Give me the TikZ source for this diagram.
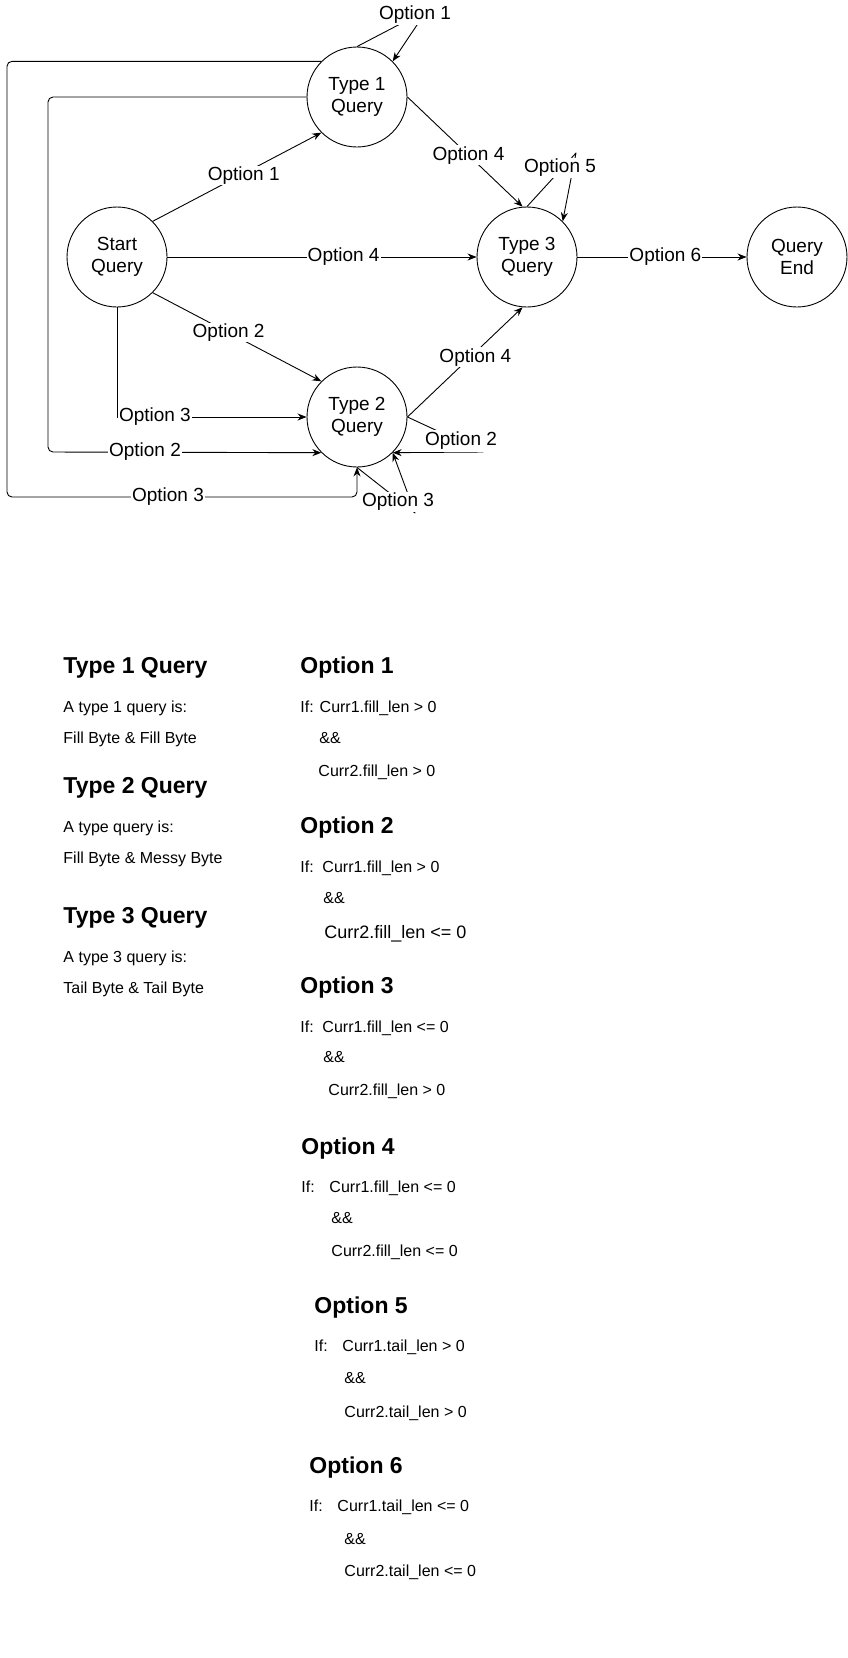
\documentclass[tikz,border=0pt]{standalone}
\usepackage{fontspec}
\setmainfont{Liberation Sans}
\usetikzlibrary{arrows.meta}

\begin{document}
\begin{tikzpicture}[x=1pt, y=-1pt, line width=0.9pt, line join=round,
    query/.style={draw, circle, minimum size=100pt, inner sep=0pt, align=center, font=\fontsize{19}{22}\selectfont},
    opt/.style={fill=white, inner sep=1pt, font=\fontsize{19}{22}\selectfont},
    arrow/.style={-{Stealth[length=9pt, width=7pt]}},
    head/.style={anchor=base west, inner sep=0pt, font=\fontsize{23}{27}\selectfont\bfseries},
    txt/.style={anchor=base west, inner sep=0pt, font=\fontsize{16}{19}\selectfont}
]
    \useasboundingbox (0,0) rectangle (848,1658);

    % Query states
    \node[query] (start) at (117,257) {Start\\Query};
    \node[query] (t1) at (357,97) {Type 1\\Query};
    \node[query] (t2) at (357,417) {Type 2\\Query};
    \node[query] (t3) at (527,257) {Type 3\\Query};
    \node[query] (qend) at (797,257) {Query\\End};

    % Loop corners
    \coordinate (v1) at (427,10);
    \coordinate (v5) at (576,153);
    \coordinate (v2) at (483,452);
    \coordinate (v3) at (415,513);

    % Transitions
    \draw[arrow] (start.45) -- node[opt, pos=0.54, yshift=-2pt] {Option 1} (t1.225);
    \draw[arrow] (start.-45) -- node[opt, pos=0.45] {Option 2} (t2.135);
    \draw[arrow] (start.south) |- node[opt, pos=0.6] {Option 3} (t2.west);
    \draw[arrow] (start.east) -- node[opt, pos=0.57] {Option 4} (t3.west);
    \draw[arrow] (t1.east) -- node[opt, pos=0.53] {Option 4} (t3.95);
    \draw[arrow] (t2.east) -- node[opt, pos=0.59, yshift=-5pt] {Option 4} (t3.265);
    \draw[arrow] (t3.east) -- node[opt, pos=0.52] {Option 6} (qend.west);

    % Back to type 2
    \draw[arrow, rounded corners=5pt] (t1.135) -| (7,497) -| (t2.south);
    \node[opt] (o3back) at (168,497) {Option 3};
    \draw[arrow, rounded corners=5pt] (t1.west) -| (48,452) -- (t2.-135);
    \node[opt] (o2back) at (145,452) {Option 2};

    % Self loops
    \draw[arrow] (t1.north) -- (v1) -- (t1.45);
    \node[opt] (o1self) at (415,15) {Option 1};
    \draw[arrow] (t3.north) -- (v5) -- (t3.45);
    \node[opt] (o5self) at (560,168) {Option 5};
    \draw[arrow] (t2.east) -- (v2) -- (t2.-45);
    \node[opt, inner sep=2.5pt] (o2self) at (461,441) {Option 2};
    \draw[arrow] (t2.south) -- (v3) -- (t2.-45);
    \node[opt] (o3self) at (398,502) {Option 3};

    % Query types
    \node[head] (h1) at (63,673) {Type 1 Query};
    \node[txt] (h1a) at (63,712) {A type 1 query is:};
    \node[txt] (h1b) at (63,743) {Fill Byte \& Fill Byte};
    \node[head] (h2) at (63,793) {Type 2 Query};
    \node[txt] (h2a) at (63,832) {A type query is:};
    \node[txt] (h2b) at (63,863) {Fill Byte \& Messy Byte};
    \node[head] (h3) at (63,923) {Type 3 Query};
    \node[txt] (h3a) at (63,962) {A type 3 query is:};
    \node[txt] (h3b) at (63,993) {Tail Byte \& Tail Byte};

    % Option conditions
    \node[head] (c1) at (300,673) {Option 1};
    \node[txt] (c1a) at (300,712) {If: Curr1.fill\_len > 0};
    \node[txt] (c1b) at (319,743) {\&\&};
    \node[txt] (c1c) at (318,776) {Curr2.fill\_len > 0};

    \node[head] (c2) at (300,833) {Option 2};
    \node[txt] (c2a) at (300,872) {If:\hspace{8.7pt}Curr1.fill\_len > 0};
    \node[txt] (c2b) at (323,903) {\&\&};
    \node[txt, font=\fontsize{18}{21}\selectfont] (c2c) at (324,938) {Curr2.fill\_len <= 0};

    \node[head] (c3) at (300,993) {Option 3};
    \node[txt] (c3a) at (300,1032) {If:\hspace{8.7pt}Curr1.fill\_len <= 0};
    \node[txt] (c3b) at (323,1062) {\&\&};
    \node[txt] (c3c) at (328,1095) {Curr2.fill\_len > 0};

    \node[head] (c4) at (301,1154) {Option 4};
    \node[txt] (c4a) at (301,1192) {If:\hspace{14.7pt}Curr1.fill\_len <= 0};
    \node[txt] (c4b) at (331,1223) {\&\&};
    \node[txt] (c4c) at (331,1256) {Curr2.fill\_len <= 0};

    \node[head] (c5) at (314,1313) {Option 5};
    \node[txt] (c5a) at (314,1351) {If:\hspace{14.7pt}Curr1.tail\_len > 0};
    \node[txt] (c5b) at (344,1383) {\&\&};
    \node[txt] (c5c) at (344,1417) {Curr2.tail\_len > 0};

    \node[head] (c6) at (309,1473) {Option 6};
    \node[txt] (c6a) at (309,1511) {If:\hspace{14.7pt}Curr1.tail\_len <= 0};
    \node[txt] (c6b) at (344,1544) {\&\&};
    \node[txt] (c6c) at (344,1576) {Curr2.tail\_len <= 0};
\end{tikzpicture}
\end{document}
